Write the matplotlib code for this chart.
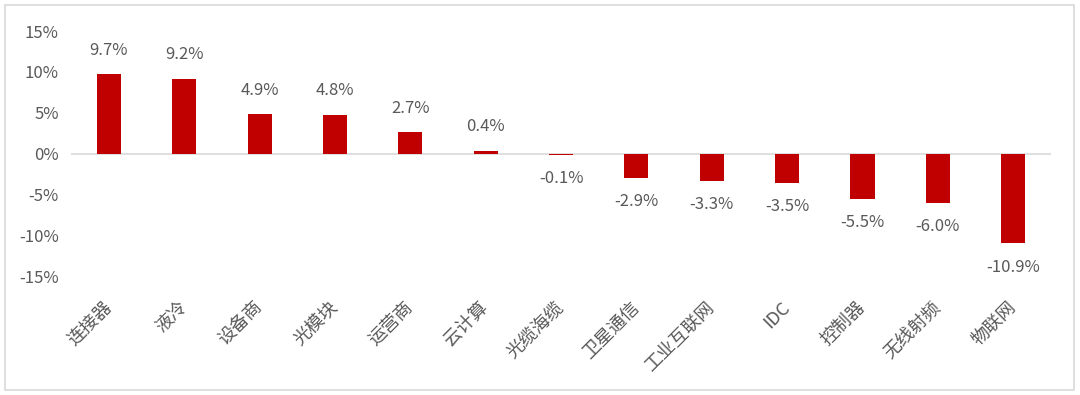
import matplotlib.pyplot as plt
from matplotlib.patches import Rectangle
from matplotlib.ticker import FuncFormatter

plt.rcParams['font.family'] = ['Noto Sans CJK SC', 'DejaVu Sans']

categories = ['连接器', '液冷', '设备商', '光模块', '运营商', '云计算', '光缆海缆',
              '卫星通信', '工业互联网', 'IDC', '控制器', '无线射频', '物联网']
values = [9.7, 9.2, 4.9, 4.8, 2.7, 0.4, -0.1, -2.9, -3.3, -3.5, -5.5, -6.0, -10.9]
yticks = [15, 10, 5, 0, -5, -10, -15]

text_color = '#595959'
bar_color = '#C00000'

fig = plt.figure(figsize=(10.8, 3.95), dpi=100)
ax = fig.add_axes([0.066, 0.299, 0.907, 0.6225])

x = range(len(categories))
ax.bar(x, values, width=0.32, color=bar_color, zorder=3)

for xi, v in zip(x, values):
    if v >= 0:
        ax.annotate(f'{v:.1f}%', (xi, v), xytext=(0, 11), textcoords='offset points',
                    ha='center', va='bottom', fontsize=12, color=text_color)
    else:
        ax.annotate(f'{v:.1f}%', (xi, v), xytext=(0, -11), textcoords='offset points',
                    ha='center', va='top', fontsize=12, color=text_color)

ax.set_ylim(-15, 15)
ax.set_xlim(-0.5, len(categories) - 0.5)
ax.set_yticks(yticks)
ax.yaxis.set_major_formatter(FuncFormatter(lambda v, p: f'{v:.0f}%'))
ax.axhline(0, color='#d9d9d9', lw=1.2, zorder=2)

for s in ax.spines.values():
    s.set_visible(False)
ax.tick_params(axis='both', length=0, colors=text_color, labelsize=12)
ax.tick_params(axis='y', pad=9)
ax.set_xticks(list(x))
ax.set_xticklabels(categories, rotation=45, ha='right', va='center',
                   rotation_mode='anchor', fontsize=13)
ax.tick_params(axis='x', pad=20)

fig.patches.append(Rectangle((0.005, 0.012), 0.989, 0.975, transform=fig.transFigure,
                             fill=False, edgecolor='#d9d9d9', lw=1.2))

fig.savefig('out.png', dpi=100)
